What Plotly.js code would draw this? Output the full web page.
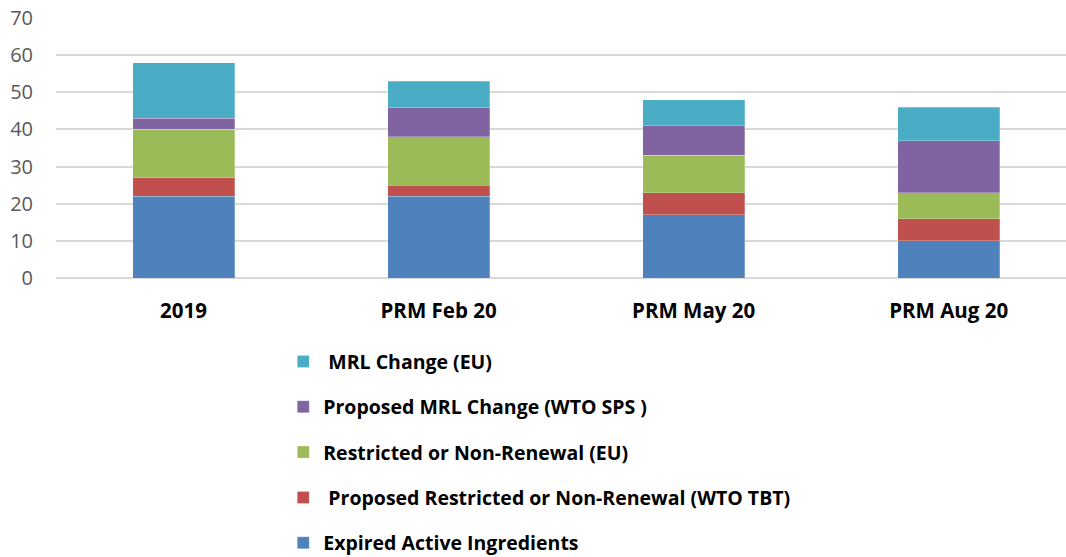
<!DOCTYPE html>
<html><head><meta charset="utf-8">
<script src="https://cdn.plot.ly/plotly-3.0.1.min.js"></script>
<style>html,body{margin:0;padding:0;background:#fff;}</style>
</head><body>
<div id="chart" style="width:1066px;height:557px;"></div>
<script>
const categories = ["2019", "PRM Feb 20", "PRM May 20", "PRM Aug 20"];
const expired = [22, 22, 17, 10];
const proposedRestricted = [5, 3, 6, 6];
const restricted = [13, 13, 10, 7];
const proposedMRL = [3, 8, 8, 14];
const mrlChange = [15, 7, 7, 9];
const seriesNames = ["Expired Active Ingredients", "\u00a0Proposed Restricted or Non-Renewal (WTO TBT)", "Restricted or Non-Renewal (EU)", "Proposed MRL Change (WTO SPS )", "\u00a0MRL Change (EU)"];
const colors = ["#4f81bd", "#c0504d", "#9bbb59", "#8064a2", "#4bacc6"];
const series = [expired, proposedRestricted, restricted, proposedMRL, mrlChange];

const traces = series.map((vals, i) => ({
  type: "bar", x: categories, y: vals, name: seriesNames[i],
  marker: {color: colors[i], line: {color: "rgba(255,255,255,0.5)", width: 0.5}},
  legendgroup: "g" + i, legendrank: 10 - i, hoverinfo: "y+name"
}));

const layout = {
  width: 1066, height: 557,
  margin: {l: 56, r: 0, t: 18, b: 279, autoexpand: false},
  barmode: "stack", bargap: 0.6,
  paper_bgcolor: "#fff", plot_bgcolor: "#fff",
  font: {family: "Open Sans, Liberation Sans, sans-serif"},
  xaxis: {range: [-0.5, 3.46], showgrid: false, zeroline: false, showline: false, ticks: "",
    ticklabelstandoff: 18,
    tickfont: {size: 20.5, color: "#000", family: "Open Sans, sans-serif", weight: "bold"}},
  yaxis: {range: [0, 70], dtick: 10, showgrid: true, gridcolor: "#d9d9d9", gridwidth: 2,
    zeroline: true, zerolinecolor: "#d9d9d9", zerolinewidth: 2, ticks: "", ticklen: 0,
    tickfont: {size: 20, color: "#595959"}, ticklabelstandoff: 22},
  showlegend: true,
  legend: {orientation: "v", traceorder: "grouped", x: 0.225, xanchor: "left", y: -0.247, yanchor: "top",
    tracegroupgap: 17, font: {size: 19.5, color: "#000", weight: "bold"}, itemwidth: 30}
};
Plotly.newPlot("chart", traces, layout, {displayModeBar: false, staticPlot: true});
</script>
</body></html>
